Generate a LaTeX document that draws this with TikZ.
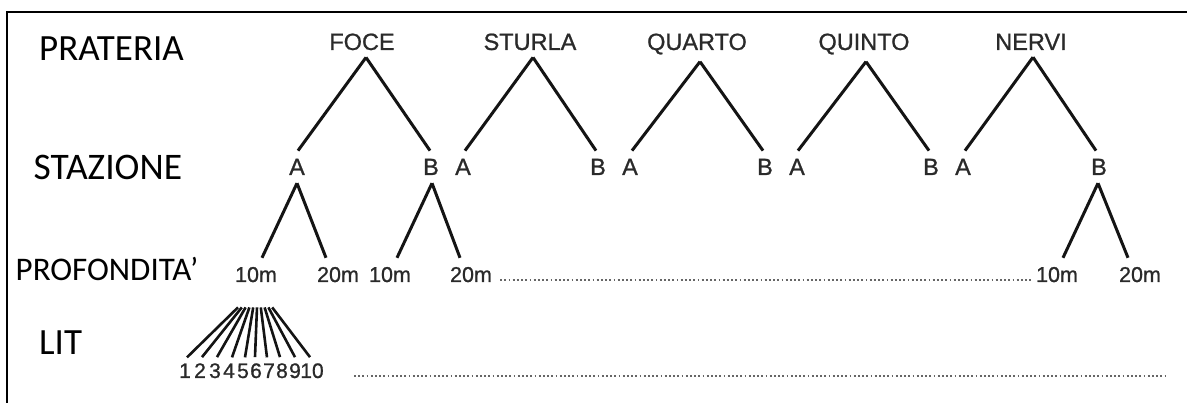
\documentclass[tikz,border=0pt]{standalone}
\usepackage{fontspec}
\setmainfont[FakeBold=0.9]{Liberation Sans}
\newfontfamily\calib{Carlito}
\definecolor{labc}{HTML}{2A2A2A}
\definecolor{linec}{HTML}{141414}
\definecolor{dotc}{HTML}{666666}
\begin{document}
\begin{tikzpicture}[x=1pt,y=-1pt,
  side/.style={font=\calib\fontsize{37}{40}\selectfont, anchor=base west, inner sep=0pt, text=black},
  site/.style={font=\fontsize{23.5}{28}\selectfont, anchor=base, inner sep=0pt, text=labc},
  stn/.style={font=\fontsize{23.5}{28}\selectfont, anchor=base, inner sep=0pt, text=labc},
  dep/.style={font=\fontsize{21.5}{26}\selectfont, anchor=base, inner sep=0pt, text=labc},
  num/.style={font=\fontsize{21}{24}\selectfont, anchor=base, inner sep=0pt, text=labc},
  branch/.style={line width=3pt, draw=linec},
  fan/.style={line width=2.6pt, draw=linec},
  dots/.style={draw=dotc, line width=2pt, dash pattern=on 1.8pt off 2.4pt}
]
\useasboundingbox (0,0) rectangle (1187,403);
\fill[white] (0,0) rectangle (1187,403);
% frame
\draw[line width=2.4pt, black] (6.7,410) -- (6.7,12.3) -- (1195,12.3);

% left labels
\node[side] (lpra) at (39,61) {PRATERIA};
\node[side, font=\calib\fontsize{37.5}{40}\selectfont] (lsta) at (33.5,180) {STAZIONE};
\node[side, font=\calib\fontsize{33}{36}\selectfont] (lpro) at (15.5,281) {PROFONDITA’};
\node[side, font=\calib\fontsize{37}{40}\selectfont] (llit) at (39,355) {LIT};

% sites and stations
\foreach \n/\t/\lx/\ap/\ax/\ae/\bx/\be in {
  f/FOCE/362/366/297/298/431/430,
  s/STURLA/530/533/463/465/598/596,
  q/QUARTO/697/700/630/632/765/763,
  u/QUINTO/864/866/797/798/931/929,
  n/NERVI/1031/1033/963/965/1099/1096}{
  \node[site] (\n) at (\lx,50) {\t};
  \node[stn] (\n-A) at (\ax,175) {A};
  \node[stn] (\n-B) at (\bx,175) {B};
  \draw[branch] ([xshift={(\ap-\lx)*1pt}, yshift=-7pt]\n.south) -- ([xshift={(\ae-\ax)*1pt}, yshift=8pt]\n-A.north);
  \draw[branch] ([xshift={(\ap-\lx)*1pt}, yshift=-7pt]\n.south) -- ([xshift={(\be-\bx)*1pt}, yshift=8pt]\n-B.north);
}

% depths
\node[dep] (fa10) at (256,282) {10m};
\node[dep] (fa20) at (338,282) {20m};
\node[dep] (fb10) at (390,282) {10m};
\node[dep] (fb20) at (471,282) {20m};
\node[dep] (nb10) at (1057,282) {10m};
\node[dep] (nb20) at (1140,282) {20m};

\draw[branch] ([yshift=-8pt]f-A.south) -- ([xshift=6pt,yshift=9pt]fa10.north);
\draw[branch] ([yshift=-8pt]f-A.south) -- ([xshift=-12pt,yshift=9pt]fa20.north);
\draw[branch] ([xshift=1pt,yshift=-8pt]f-B.south) -- ([xshift=7pt,yshift=9pt]fb10.north);
\draw[branch] ([xshift=1pt,yshift=-8pt]f-B.south) -- ([xshift=-11pt,yshift=9pt]fb20.north);
\draw[branch] ([xshift=-1pt,yshift=-8pt]n-B.south) -- ([xshift=6pt,yshift=9pt]nb10.north);
\draw[branch] ([xshift=-1pt,yshift=-8pt]n-B.south) -- ([xshift=-12pt,yshift=9pt]nb20.north);

\draw[dots] ([xshift=8pt,yshift=2pt]fb20.south east) -- ([xshift=-3pt,yshift=2pt]nb10.south west);

% LIT fan
\foreach \i/\x/\b in {1/185/2,2/200/2,3/215/2,4/229/3,5/243/2,6/256/-1,7/269/-2,8/282/-2,9/295/0,10/312/-2}{
  \node[num] (d\i) at (\x,378) {\i};
  \draw[fan] ([xshift={(-18+(\i-1)*3.8)*1pt}, yshift=-25pt]fa10.south) -- ([xshift={\b*1pt}, yshift=6pt]d\i.north);
}

\coordinate (litS) at (354,376);
\coordinate (litE) at (1165,376);
\draw[dots] (litS) -- (litE);
\end{tikzpicture}
\end{document}
